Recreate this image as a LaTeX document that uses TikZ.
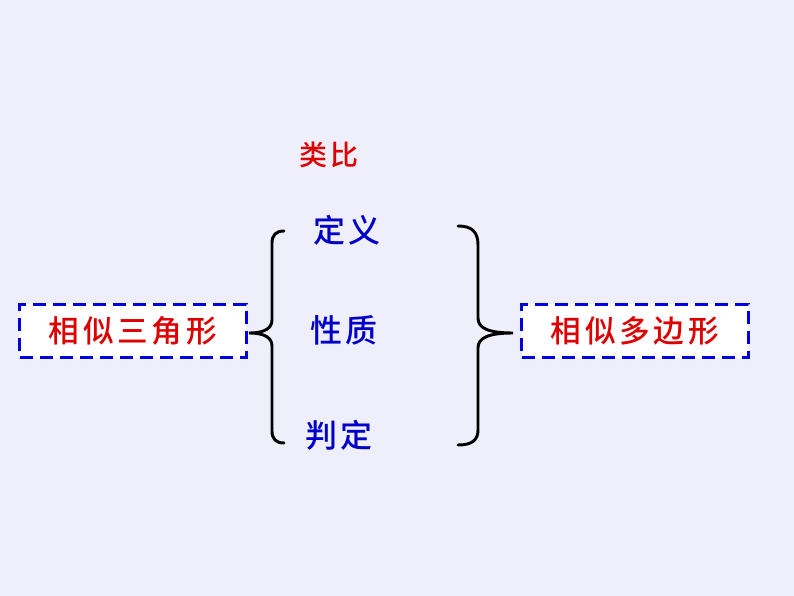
\documentclass[tikz,border=0pt]{standalone}
\usepackage{fontspec}
\newfontfamily\cjk[LetterSpace=12, UprightFont=* Medium]{Noto Sans CJK SC}
\usetikzlibrary{positioning}
\definecolor{bglilac}{RGB}{239,239,251}
\definecolor{txtred}{RGB}{222,0,0}
\definecolor{txtblue}{RGB}{0,0,200}
\definecolor{dashblue}{RGB}{0,0,225}

\begin{document}
\begin{tikzpicture}[x=0.75pt, y=-0.75pt]
\tikzstyle{shapebox} = [draw=dashblue, dash pattern=on 10pt off 5pt, line width=2.2pt, fill=white, minimum width=170pt, minimum height=40pt, text=txtred, font=\cjk\fontsize{23}{27}\selectfont]
\tikzstyle{topic} = [text=txtblue, font=\cjk\fontsize{24}{28}\selectfont]
\tikzstyle{brace} = [line width=2.2pt, line cap=round]

% background and frame
\fill [bglilac] (0,0) rectangle (794,596);
\useasboundingbox (0,0) rectangle (794,596);

\node [shapebox] (tri) at (133,331) {相似三角形};
\node [shapebox] (poly) at (635,331) {相似多边形};

\node [text=txtred, font=\cjk\fontsize{21}{25}\selectfont] (analogy) at (329,155) {类比};
\node [topic] (defn) at (347,230) {定义};
\node [topic] (prop) at (344,330) {性质};
\node [topic] (judge) at (339,435) {判定};

% braces
\draw [brace] (284,231) .. controls (276,231) and (272,235) .. (272,243) -- (272,320)
  .. controls (272,328) and (265,333) .. (249,333)
  .. controls (265,333) and (272,338) .. (272,346) -- (272,431)
  .. controls (272,439) and (276,443) .. (284,443);
\draw [brace] (458,226) .. controls (472,226) and (478,232) .. (478,245) -- (478,318)
  .. controls (478,328) and (488,333) .. (513,333)
  .. controls (488,333) and (478,338) .. (478,348) -- (478,430)
  .. controls (478,440) and (472,445) .. (458,445);
\end{tikzpicture}
\end{document}
